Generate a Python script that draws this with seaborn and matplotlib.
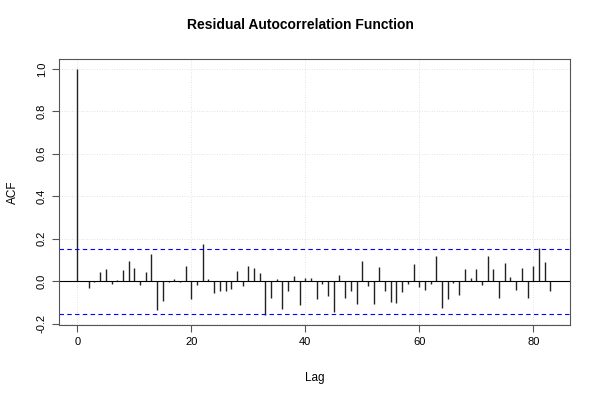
import numpy as np
import pandas as pd
import matplotlib
matplotlib.use("Agg")
import matplotlib.pyplot as plt
import seaborn as sns

# ACF values, lags 0..83
lags = list(range(84))
acf = [1.000, 0.003, -0.031, -0.006, 0.042, 0.056, -0.014, 0.006, 0.051, 0.093,
       0.064, -0.019, 0.044, 0.128, -0.134, -0.093, -0.005, 0.009, -0.006, 0.072,
       -0.083, -0.016, 0.176, 0.009, -0.056, -0.048, -0.048, -0.037, 0.047, -0.025,
       0.072, 0.061, 0.039, -0.160, -0.078, 0.011, -0.129, -0.045, 0.023, -0.112,
       0.016, 0.017, -0.086, -0.014, -0.070, -0.143, 0.028, -0.079, -0.044, -0.109,
       0.093, -0.023, -0.109, 0.069, -0.047, -0.098, -0.104, -0.053, -0.014, 0.081,
       -0.026, -0.042, -0.011, 0.117, -0.126, -0.083, -0.009, -0.067, 0.055, 0.016,
       0.055, -0.019, 0.118, 0.055, -0.081, 0.087, 0.022, -0.042, 0.061, -0.081,
       0.072, 0.157, 0.089, -0.047]
conf_limit = 0.153

df = pd.DataFrame({"lag": lags, "acf": acf})

sns.set_style("white")
plt.rcParams["font.family"] = ["Liberation Sans", "DejaVu Sans"]
plt.rcParams["text.color"] = "black"
plt.rcParams["axes.labelcolor"] = "black"

fig = plt.figure(figsize=(6, 4), dpi=100)
ax = fig.add_axes([0.098, 0.1875, 0.8525, 0.665])

# dotted grid at the ticks
xt = [0, 20, 40, 60, 80]
yt = [-0.2, 0.0, 0.2, 0.4, 0.6, 0.8, 1.0]
for x in xt:
    ax.axvline(x, color="#d9d9d9", lw=0.6, ls=(0, (1, 2)), zorder=0)
for y in yt:
    ax.axhline(y, color="#d9d9d9", lw=0.6, ls=(0, (1, 2)), zorder=0)

ax.vlines(df["lag"], 0, df["acf"], color="#222222", lw=1.0)
ax.axhline(0, color="black", lw=0.8)
ax.axhline(conf_limit, color="blue", lw=0.8, ls=(0, (4, 3)))
ax.axhline(-conf_limit, color="blue", lw=0.8, ls=(0, (4, 3)))

ax.set_xlim(-3.25, 86.5)
ax.set_ylim(-0.2064, 1.0464)
ax.set_xticks(xt)
ax.set_yticks(yt)
ax.set_yticklabels([f"{v:.1f}" for v in yt], rotation=90, va="center")
ax.tick_params(direction="out", length=5, width=0.8, labelsize=8, left=True, bottom=True,
               color="#555555", labelcolor="black")

for s in ax.spines.values():
    s.set_color("#555555")
    s.set_linewidth(0.8)

ax.set_xlabel("Lag", fontsize=8.5, labelpad=18)
ax.set_ylabel("ACF", fontsize=8.5, labelpad=13)
fig.suptitle("Residual Autocorrelation Function", fontsize=10, fontweight="bold", y=0.955)

fig.savefig("out.png", dpi=100)
